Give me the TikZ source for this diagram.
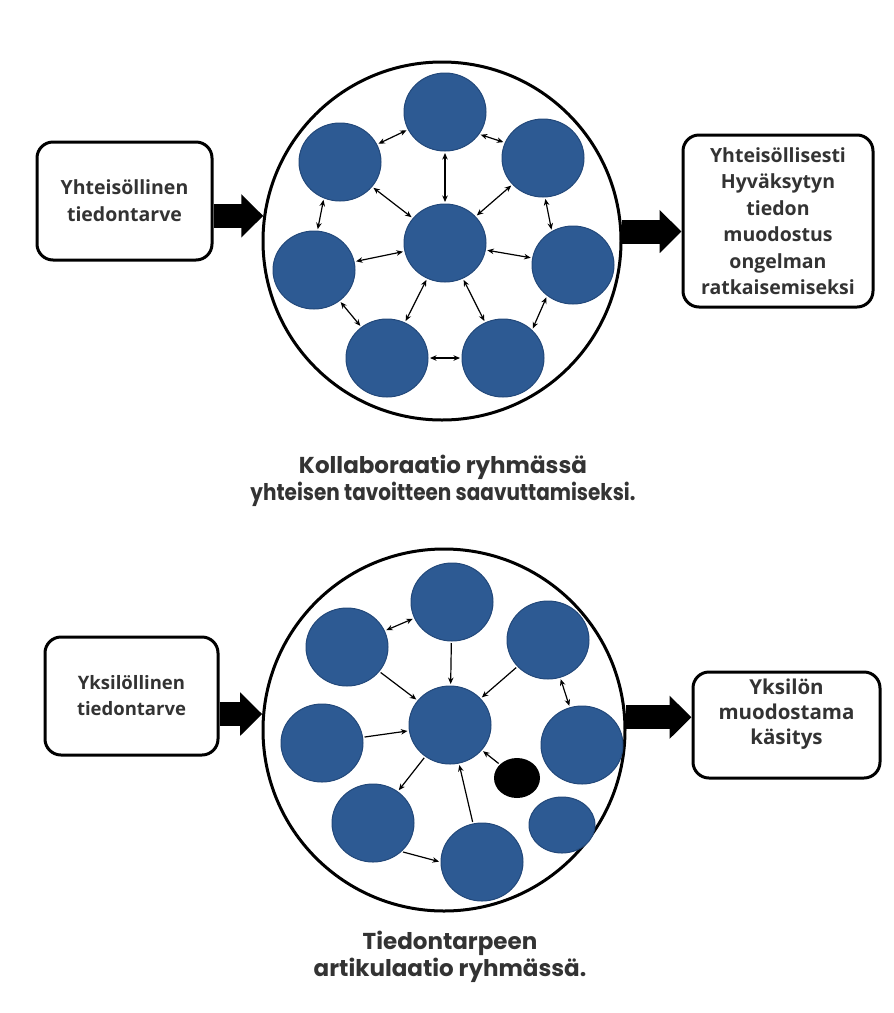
\documentclass[tikz,border=0pt]{standalone}
\usepackage{fontspec}
\setmainfont{Open Sans}
\newfontfamily\capfont{Poppins}
\usetikzlibrary{arrows.meta,shapes.geometric}
\definecolor{dotblue}{HTML}{2D5A93}
\definecolor{dotline}{HTML}{22487A}
\definecolor{txt}{HTML}{333333}
\begin{document}
\begin{tikzpicture}[x=1pt,y=-1pt,
  big/.style={circle, draw=black, line width=3pt, inner sep=0pt},
  dot/.style={ellipse, fill=dotblue, draw=dotline, line width=1pt, minimum width=82pt, minimum height=78pt, inner sep=0pt},
  box/.style={draw=black, line width=3pt, rounded corners=16pt, align=center, text=txt, inner sep=0pt},
  boxtxt/.style={align=center, text=txt, inner sep=0pt},
  lnk/.style={line width=1.2pt, {Stealth[length=6.5pt,width=5.5pt]}-{Stealth[length=6.5pt,width=5.5pt]}, shorten <=1.5pt, shorten >=1.5pt},
  one/.style={line width=1.2pt, -{Stealth[length=6.5pt,width=5.5pt]}, shorten <=1.5pt, shorten >=1.5pt},
  fat/.style={line width=24pt, -{Triangle[length=22pt,width=42pt]}},
  captxt/.style={align=center, text=txt, font=\capfont\fontsize{23}{27}\selectfont\bfseries}
]
\useasboundingbox[fill=white] (0,0) rectangle (894,1013);

% ---------- top diagram ----------
\node[big, minimum size=358pt] (big1) at (442,241) {};
\node[dot] (t1) at (445,112) {};
\node[dot] (t2) at (340,162) {};
\node[dot] (t3) at (543,158) {};
\node[dot] (t4) at (314,270) {};
\node[dot] (t0) at (445,243) {};
\node[dot] (t5) at (573,265) {};
\node[dot] (t6) at (387,358) {};
\node[dot] (t7) at (503,358) {};

\draw[lnk] (t1) -- (t2);
\draw[lnk] (t1.-33) -- (t3.158);
\draw[lnk] (t1) -- (t0);
\draw[lnk] (t2) -- (t0);
\draw[lnk] (t3) -- (t0);
\draw[lnk] (t2.246) -- (t4.85);
\draw[lnk] (t3.273) -- (t5.122);
\draw[lnk] (t4) -- (t0);
\draw[lnk] (t0) -- (t5);
\draw[lnk] (t4) -- (t6);
\draw[lnk] (t0) -- (t6);
\draw[lnk] (t0) -- (t7);
\draw[lnk] (t5.230) -- (t7.44);
\draw[lnk] (t6) -- (t7);

\node[box, minimum width=175pt, minimum height=118pt, font=\fontsize{19.5}{27}\selectfont\bfseries] (box1) at (124.5,201) {Yhteisöllinen\\tiedontarve};
\node[box, minimum width=190pt, minimum height=172pt, font=\fontsize{19.5}{26.5}\selectfont\bfseries] (box2) at (778,221) {Yhteisöllisesti\\Hyväksytyn\\tiedon\\muodostus\\ongelman\\ratkaisemiseksi};
\draw[fat] (box1.east |- big1.172) -- (big1.172);
\draw[fat] (big1.3) -- (box2.west |- big1.3);

\node[captxt] (cap1) at (443,481) {Kollaboraatio ryhmässä\\\scalebox{0.87}[1]{yhteisen tavoitteen saavuttamiseksi.}};

% ---------- bottom diagram ----------
\node[big, minimum size=362pt] (big2) at (444,730) {};
\node[dot] (b1) at (452,602) {};
\node[dot] (b2) at (347,647) {};
\node[dot] (b3) at (548,640) {};
\node[dot] (b4) at (322,743) {};
\node[dot] (b0) at (450,725) {};
\node[dot] (b5) at (582,745) {};
\node[ellipse, fill=black, minimum width=46pt, minimum height=40pt, inner sep=0pt] (bk) at (517,778) {};
\node[dot, minimum width=66pt, minimum height=56pt] (bs) at (562,825) {};
\node[dot] (b6) at (373,823) {};
\node[dot] (b7) at (482,862) {};

\draw[lnk] (b2) -- (b1);
\draw[one] (b1) -- (b0);
\draw[one] (b2) -- (b0);
\draw[one] (b3) -- (b0);
\draw[one] (b4) -- (b0);
\draw[lnk] (b3) -- (b5);
\draw[one] (b0) -- (b6);
\draw[one] (b7) -- (b0);
\draw[one] (bk) -- (b0);
\draw[one] (b6.-45) -- (b7.west);

\node[box, minimum width=173pt, minimum height=118pt, font=\fontsize{18.5}{26}\selectfont\bfseries] (box3) at (131.5,696) {Yksilöllinen\\tiedontarve};
\node[box, minimum width=187pt, minimum height=106pt] (box4) at (786.5,725) {};
\node[boxtxt, font=\fontsize{20.5}{25}\selectfont\bfseries] (box4t) at (786.5,714) {Yksilön\\muodostama\\käsitys};
\draw[fat] (box3.east |- big2.175) -- (big2.175);
\draw[fat] (big2.4) -- (box4.west |- big2.4);

\node[captxt] (cap2) at (450,957) {Tiedontarpeen\\artikulaatio ryhmässä.};
\end{tikzpicture}
\end{document}
